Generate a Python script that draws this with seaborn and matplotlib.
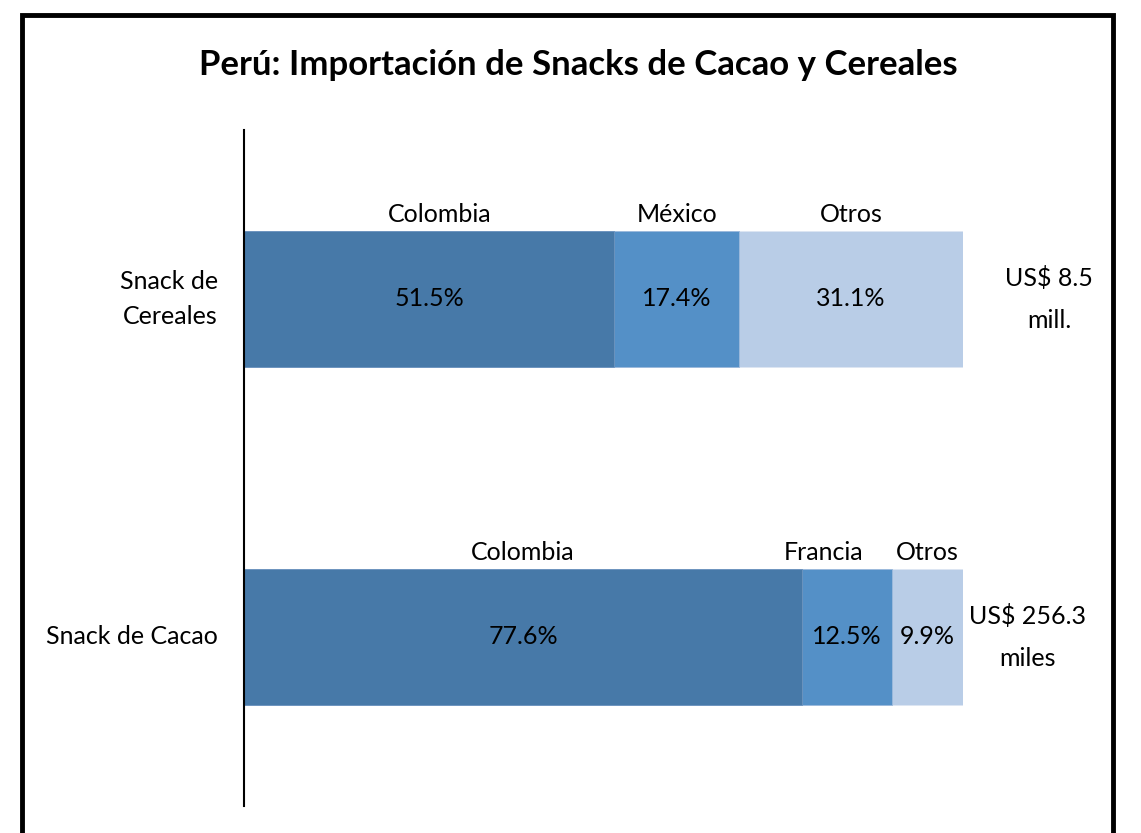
import matplotlib
matplotlib.use("Agg")
import matplotlib.pyplot as plt
import seaborn as sns
import pandas as pd
from matplotlib.patches import Rectangle

# datos
categorias = ["Snack de\nCereales", "Snack de Cacao"]
pais1 = ["Colombia", "Colombia"]
pais2 = ["México", "Francia"]
pais3 = ["Otros", "Otros"]
share1 = [51.5, 77.6]
share2 = [17.4, 12.5]
share3 = [31.1, 9.9]
totales = ["US$ 8.5\nmill.", "US$ 256.3\nmiles"]

sns.set_style("white")
plt.rcParams['font.family'] = ['Lato', 'DejaVu Sans']
plt.rcParams['text.color'] = 'black'

df = pd.DataFrame({"cat": categorias, "s1": share1, "s2": share2, "s3": share3})
df["c2"] = df["s1"] + df["s2"]
df["c3"] = df["c2"] + df["s3"]

col1 = "#4779a8"
col2 = "#5490c7"
col3 = "#b9cde7"

fig = plt.figure(figsize=(11.41, 8.33), dpi=100)
ax = fig.add_axes([244 / 1141, 1 - 806 / 833, 719 / 1141, 676 / 833])

# barras apiladas: se dibujan los acumulados de mayor a menor
sns.barplot(data=df, x="c3", y="cat", orient="h", color=col3, width=0.4,
            saturation=1, edgecolor="#dde6f2", linewidth=0.6, ax=ax)
sns.barplot(data=df, x="c2", y="cat", orient="h", color=col2, width=0.4,
            saturation=1, edgecolor="#9dbbdd", linewidth=0.6, ax=ax)
sns.barplot(data=df, x="s1", y="cat", orient="h", color=col1, width=0.4,
            saturation=1, edgecolor="#6f95bf", linewidth=0.6, ax=ax)

ax.set_xlim(0, 100)
ax.set_ylim(1.5, -0.5)
ax.set_xlabel("")
ax.set_ylabel("")
ax.set_xticks([])
ax.set_yticks([])
for s in ["top", "right", "bottom"]:
    ax.spines[s].set_visible(False)
ax.spines["left"].set_color("black")
ax.spines["left"].set_linewidth(1.5)

fs = 18
for i in range(len(categorias)):
    lefts = [0, share1[i], share1[i] + share2[i]]
    vals = [share1[i], share2[i], share3[i]]
    nombres = [pais1[i], pais2[i], pais3[i]]
    for j in range(3):
        xc = lefts[j] + vals[j] / 2
        ax.text(xc, i, "{:.1f}%".format(vals[j]), ha="center", va="center",
                fontsize=fs)
        xn = xc
        if nombres[j] == "Francia":
            xn = xc - 3.2
        if nombres[j] == "Colombia" and i == 0:
            xn = xc + 1.4
        ax.text(xn, i - 0.215, nombres[j], ha="center", va="bottom",
                fontsize=fs)
    ax.text(-3.6, i, categorias[i], ha="right", va="center", fontsize=fs,
            linespacing=1.6)
xr = [112, 109]
for i in range(len(totales)):
    ax.text(xr[i], i, totales[i], ha="center", va="center", fontsize=fs,
            linespacing=2.0, clip_on=False)

fig.text(0.507, 1 - 65 / 833, "Perú: Importación de Snacks de Cacao y Cereales",
         ha="center", va="center", fontsize=25, fontweight="bold")

# marco del gráfico
fig.patches.append(Rectangle((22 / 1141, -0.05), (1113 - 22) / 1141, 1.05 - 15 / 833,
                             transform=fig.transFigure, fill=False,
                             edgecolor="black", linewidth=3.5))

fig.savefig("out.png", dpi=100)
